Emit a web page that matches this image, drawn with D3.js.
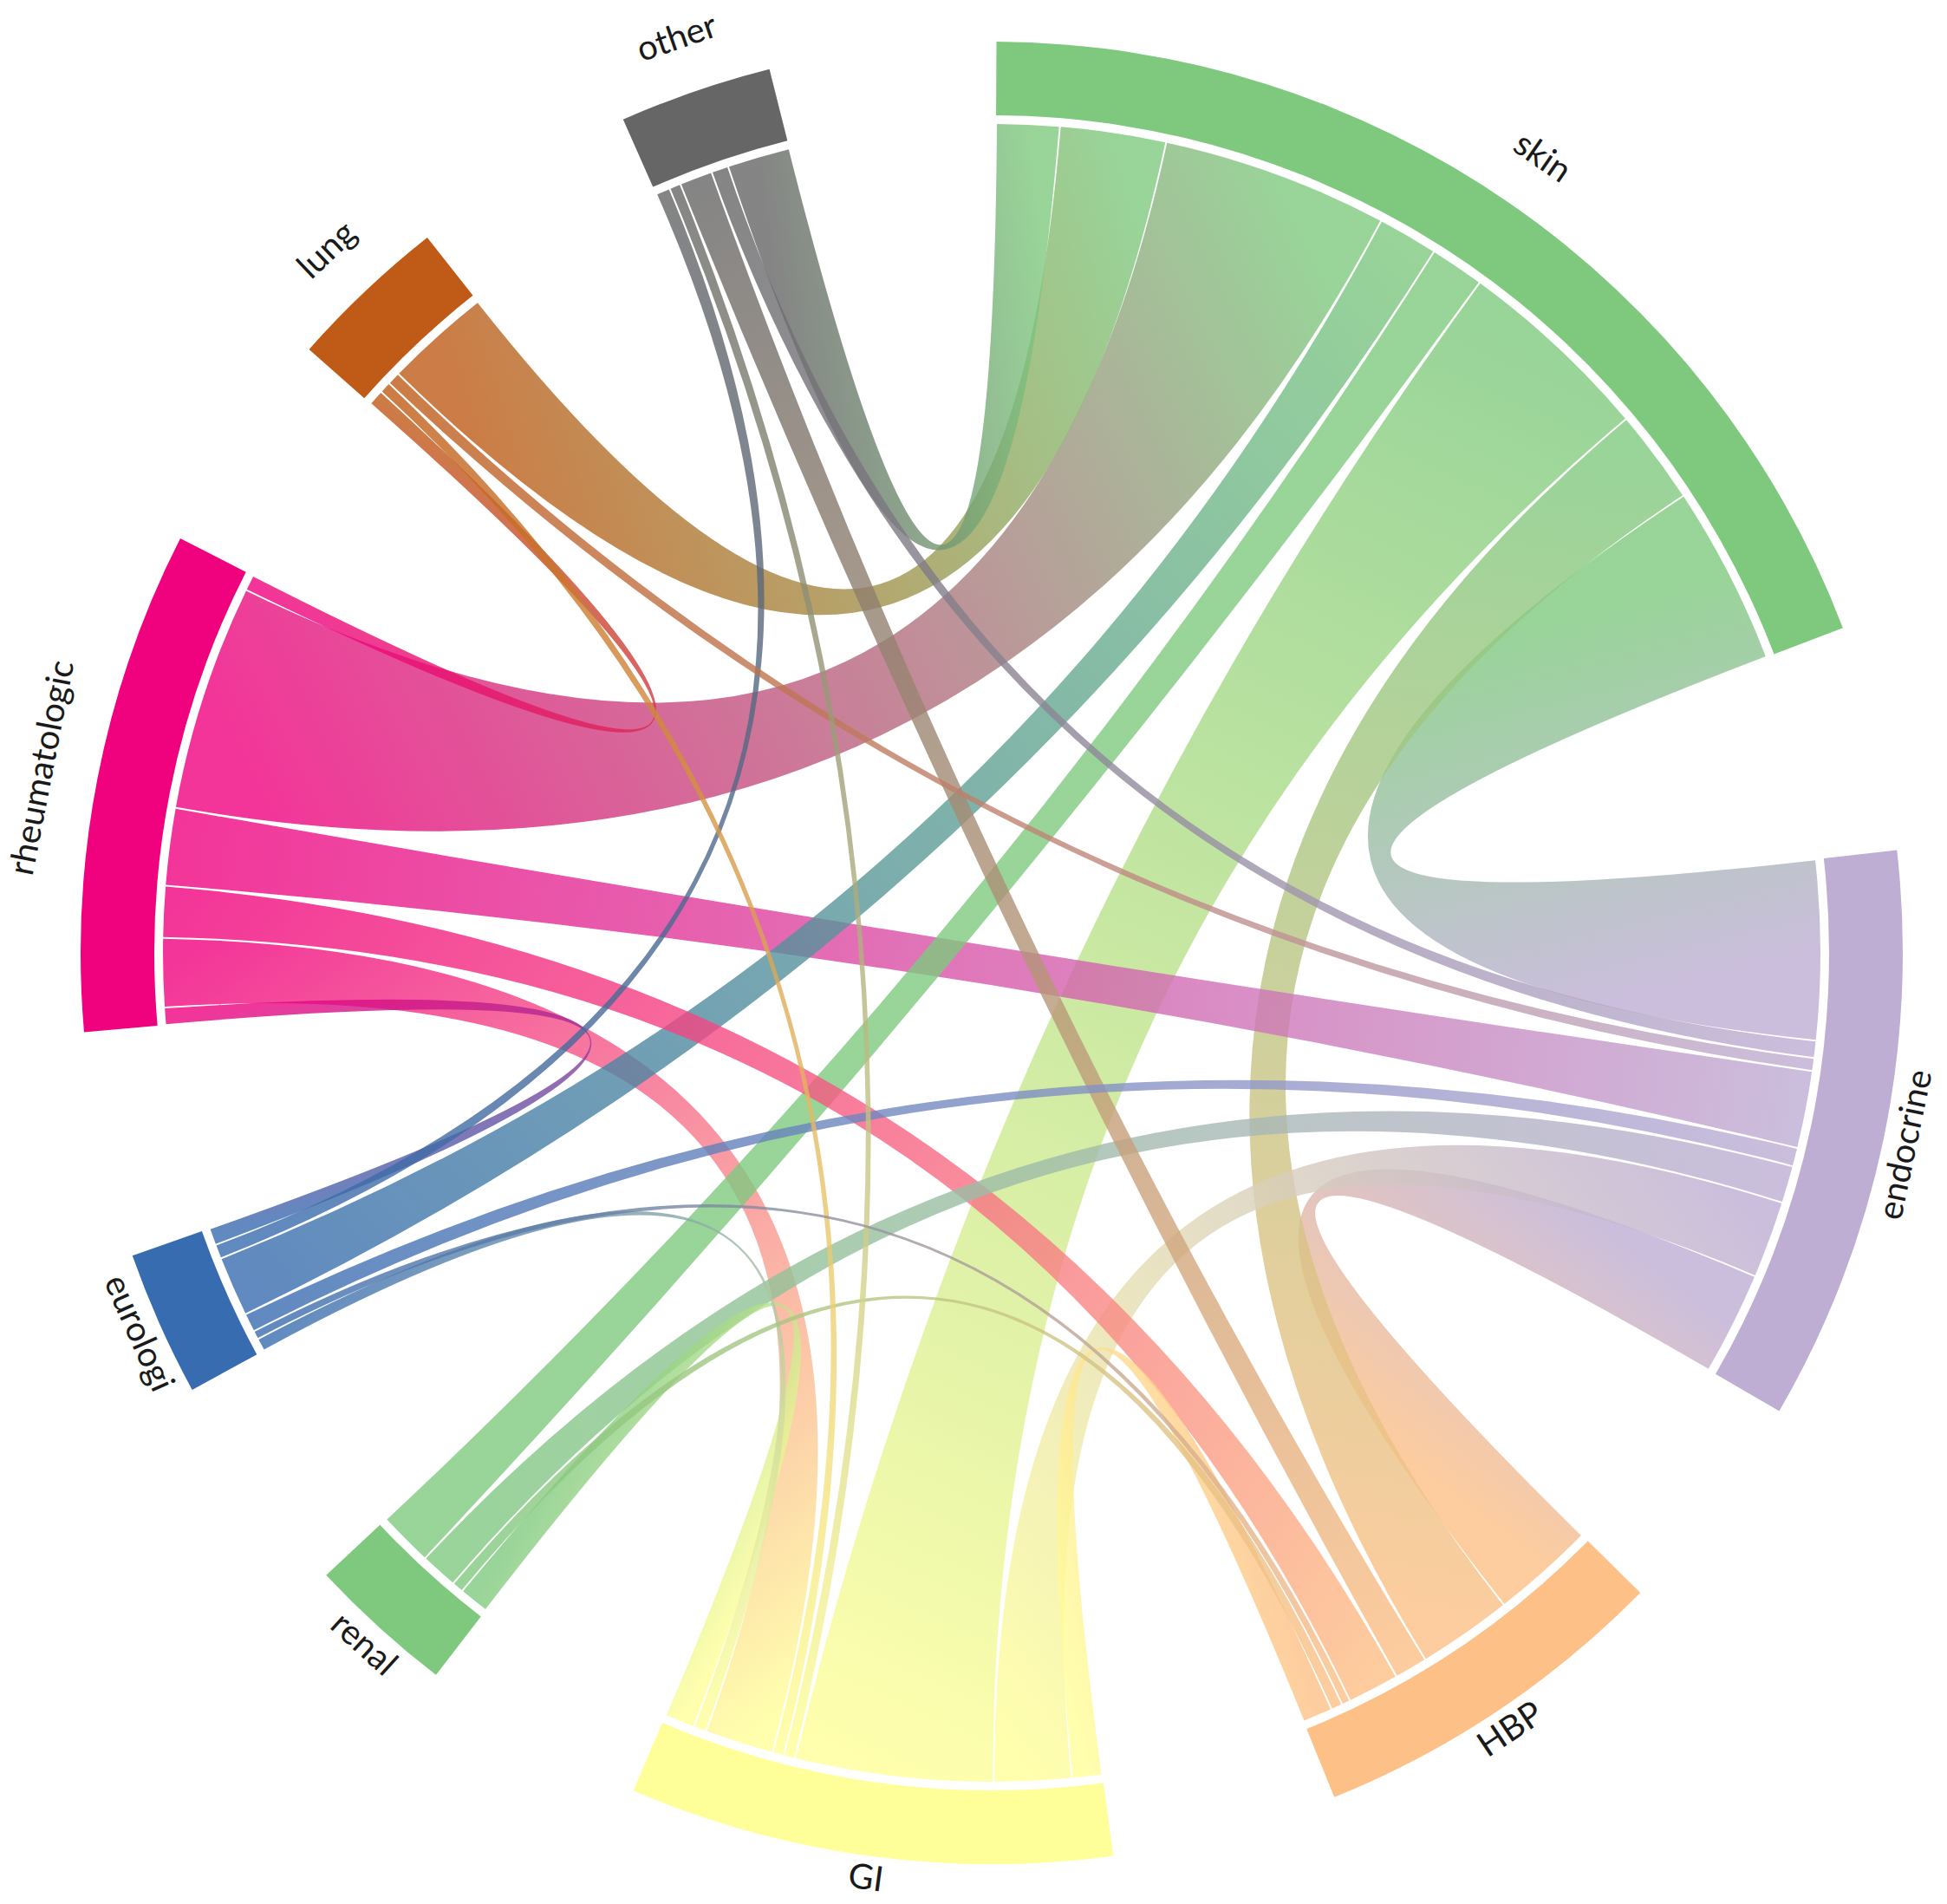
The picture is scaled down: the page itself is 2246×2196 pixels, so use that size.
<!DOCTYPE html>
<html>
<head>
<meta charset="utf-8">
<script src="https://cdn.jsdelivr.net/npm/d3@7"></script>
<style>
  html, body { margin: 0; padding: 0; background: #ffffff; }
  svg { display: block; }
</style>
</head>
<body>
<svg id="chart" width="2246" height="2196"></svg>
<script>
// ---- data ----
const groups = ["skin", "endocrine", "HBP", "GI", "renal", "eurologi", "rheumatologic", "lung", "other"];
const groupColors = ["#7FC97F", "#BEAED4", "#FDC086", "#FFFF99", "#7FC97F", "#386CB0", "#F0027F", "#BF5B17", "#666666"];

const linkFrom  = ["skin","skin","skin","skin","skin","skin","skin","skin",
                   "endocrine","endocrine","endocrine","endocrine","endocrine","endocrine","endocrine",
                   "HBP","HBP","HBP","HBP","HBP",
                   "GI","GI","GI","GI","GI",
                   "eurologi","eurologi",
                   "rheumatologic"];
const linkTo    = ["other","lung","rheumatologic","eurologi","renal","GI","HBP","endocrine",
                   "other","lung","rheumatologic","eurologi","renal","GI","HBP",
                   "other","rheumatologic","eurologi","renal","GI",
                   "other","lung","rheumatologic","eurologi","renal",
                   "other","rheumatologic",
                   "lung"];
const linkValue = [4.4, 7.4, 15.8, 4.2, 3.8, 13.8, 6.6, 12.5,
                   1.2, 0.9, 5.4, 1.3, 2.6, 5.4, 7.2,
                   2.3, 3.6, 0.6, 0.8, 2.1,
                   0.8, 0.8, 4.8, 0.9, 2.1,
                   1.0, 1.2,
                   1.1];

// ---- layout ----
const cx = 1144, cy = 1099;
const rOuter = 1051, rTrackInner = 966, rChord = 956;
const rLabelOut = 1103, rLabelIn = 1090;
const deg = Math.PI / 180;
const pad = 14.42 * deg;
const startOffset = 0.3 * deg;
const n = groups.length;

const matrix = groups.map(() => new Array(n).fill(0));
linkFrom.forEach((f, idx) => {
  const i = groups.indexOf(f), j = groups.indexOf(linkTo[idx]);
  matrix[i][j] += linkValue[idx];
  matrix[j][i] += linkValue[idx];
});
const total = d3.sum(matrix.flat());
const angleScale = d3.scaleLinear().domain([0, total]).range([0, 2 * Math.PI - n * pad]);

const groupArcs = [];
const slots = {};
let a = startOffset;
for (let i = 0; i < n; i++) {
  const g = { index: i, startAngle: a };
  for (let s = 1; s < n; s++) {
    const j = (i - s + n) % n;
    const v = matrix[i][j];
    if (v > 0) {
      const w = angleScale(v);
      slots[i + "-" + j] = { startAngle: a, endAngle: a + w };
      a += w;
    }
  }
  g.endAngle = a;
  groupArcs.push(g);
  a += pad;
}

const svg = d3.select("#chart");
const defs = svg.append("defs");
const root = svg.append("g").attr("transform", `translate(${cx},${cy})`);

// ---- chords ----
const inset = 0.06 * deg;
const ribbon = d3.ribbon().radius(rChord);
const chords = linkFrom.map((f, idx) => {
  const i = groups.indexOf(f), j = groups.indexOf(linkTo[idx]);
  const s = slots[i + "-" + j], t = slots[j + "-" + i];
  return {
    i, j, value: linkValue[idx],
    source: { startAngle: s.startAngle + inset, endAngle: s.endAngle - inset },
    target: { startAngle: t.startAngle + inset, endAngle: t.endAngle - inset }
  };
}).sort((p, q) => q.value - p.value);

chords.forEach((c, k) => {
  const ms = (c.source.startAngle + c.source.endAngle) / 2;
  const mt = (c.target.startAngle + c.target.endAngle) / 2;
  const grad = defs.append("linearGradient")
    .attr("id", "grad" + k)
    .attr("gradientUnits", "userSpaceOnUse")
    .attr("x1", rChord * Math.sin(ms)).attr("y1", -rChord * Math.cos(ms))
    .attr("x2", rChord * Math.sin(mt)).attr("y2", -rChord * Math.cos(mt));
  grad.append("stop").attr("offset", "0%").attr("stop-color", groupColors[c.i]);
  grad.append("stop").attr("offset", "100%").attr("stop-color", groupColors[c.j]);
});

root.append("g").attr("class", "chords")
  .selectAll("path")
  .data(chords)
  .join("path")
  .attr("d", ribbon)
  .attr("fill", (d, k) => `url(#grad${k})`)
  .attr("fill-opacity", 0.8);

// ---- group arcs ----
const arc = d3.arc().innerRadius(rTrackInner).outerRadius(rOuter);
root.append("g").attr("class", "groups")
  .selectAll("path")
  .data(groupArcs)
  .join("path")
  .attr("d", arc)
  .attr("fill", d => groupColors[d.index]);

// ---- labels ----
root.append("g").attr("class", "labels")
  .selectAll("text")
  .data(groupArcs)
  .join("text")
  .attr("transform", d => {
    const m = (d.startAngle + d.endAngle) / 2;
    const md = m / deg;
    const flip = md > 90 && md < 270;
    const r = flip ? rLabelIn : rLabelOut;
    const x = r * Math.sin(m), y = -r * Math.cos(m);
    return `translate(${x},${y}) rotate(${flip ? md - 180 : md})`;
  })
  .attr("text-anchor", "middle")
  .attr("font-family", "Lato, 'Open Sans', sans-serif")
  .attr("font-size", 40)
  .attr("fill", "#1a1a1a")
  .text(d => groups[d.index]);
</script>
</body>
</html>
